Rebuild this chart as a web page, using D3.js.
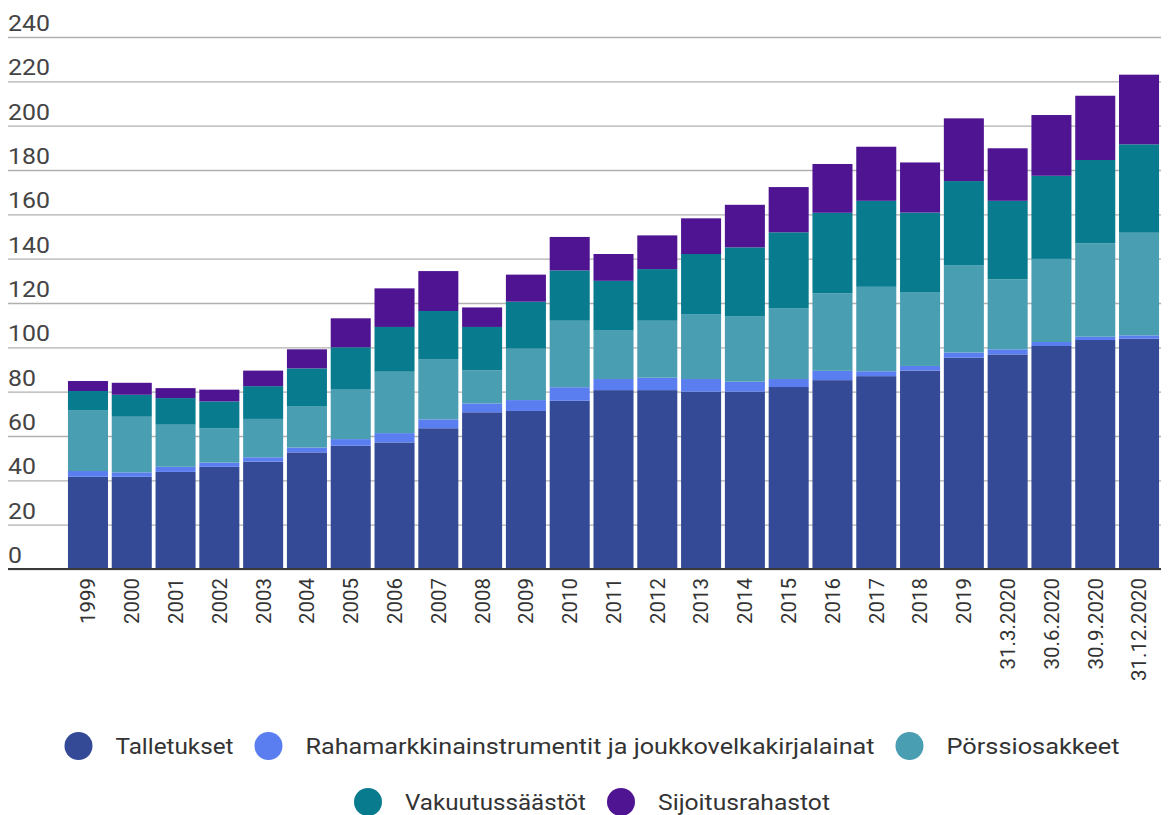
<!DOCTYPE html>
<html>
<head>
<meta charset="utf-8">
<script src="https://cdn.jsdelivr.net/npm/d3@7"></script>
<style>
  body { margin: 0; background: #fff; }
  text { font-family: Roboto, "Noto Sans", sans-serif; }
</style>
</head>
<body>
<div id="chart"></div>
<script>
//Data (billion euros)
var categories = ["1999","2000","2001","2002","2003","2004","2005","2006","2007","2008","2009","2010",
  "2011","2012","2013","2014","2015","2016","2017","2018","2019","31.3.2020","30.6.2020","30.9.2020","31.12.2020"]

var seriesNames = ["Talletukset", "Rahamarkkinainstrumentit ja joukkovelkakirjalainat", "Pörssiosakkeet",
  "Vakuutussäästöt", "Sijoitusrahastot"]

var talletukset = [41.6,41.6,43.8,46.1,48.4,52.6,55.6,57.1,63.5,70.7,71.3,75.9,80.7,80.7,80.0,80.0,82.1,85.2,87.0,89.5,95.3,96.8,100.6,103.3,103.9]
var rahamarkkina = [2.6,2.0,2.3,1.9,2.0,2.2,3.0,4.2,4.0,4.0,4.9,6.1,5.0,5.6,5.7,4.5,3.6,4.2,2.2,2.1,2.4,2.3,1.8,1.5,1.5]
var porssiosakkeet = [27.5,25.1,19.0,15.4,17.3,18.7,22.6,27.7,27.2,14.9,23.2,30.0,22.1,25.7,29.3,29.6,32.0,35.0,38.1,33.1,39.4,31.6,37.5,42.1,46.3]
var vakuutus = [8.6,9.9,12.0,12.2,14.8,17.0,18.8,20.2,21.7,19.6,21.2,22.7,22.2,23.3,27.1,31.0,34.2,36.3,38.8,36.1,37.9,35.4,37.5,37.6,39.9]
var sijoitus = [4.5,5.4,4.5,5.3,7.0,8.6,13.1,17.4,18.0,8.8,12.2,15.1,12.1,15.2,16.1,19.2,20.4,22.0,24.4,22.6,28.3,23.7,27.4,29.0,31.4]

var yTicks = [0,20,40,60,80,100,120,140,160,180,200,220,240]

var colors = ["#344a97", "#5a7df0", "#4a9eb1", "#087b8e", "#4f1491"]

//Build rows for the stack
var seriesValues = [talletukset, rahamarkkina, porssiosakkeet, vakuutus, sijoitus]
var rows = []
for (i = 0; i < categories.length; i++) {
  var row = { cat: categories[i] }
  for (j = 0; j < seriesNames.length; j++) {
    row[seriesNames[j]] = seriesValues[j][i]
  }
  rows.push(row)
}

var width = 1169
var height = 815

var svg = d3.select("#chart")
  .append("svg")
  .attr("width", width)
  .attr("height", height)

//Scales
var y = d3.scaleLinear()
  .domain([0, 240])
  .range([569, 37])

var x = d3.scaleBand()
  .domain(categories)
  .range([66.2, 1160.8])
  .paddingInner(0.086)
  .paddingOuter(0.04)

//Grid lines and y labels
var grid = svg.append("g")
  .attr("transform", "translate(8,0)")
  .call(d3.axisRight(y)
    .tickValues(yTicks)
    .tickSize(1153)
    .tickFormat(""))
grid.select(".domain").remove()
grid.selectAll(".tick line")
  .attr("stroke", "#b0b0b0")
  .attr("stroke-width", 1.3)

//The picture is a bit stretched sideways, so the labels are widened a little
svg.selectAll(".ylabel")
  .data(yTicks)
  .enter()
  .append("text")
  .attr("class", "ylabel")
  .attr("transform", function(d){ return "translate(8," + (y(d) - 6) + ") scale(1.13,1)" })
  .attr("fill", "#444")
  .style("font-size", "22px")
  .text(function(d){ return d })

//Stacked bars
var stack = d3.stack().keys(seriesNames)
var stacked = stack(rows)

svg.append("g")
  .selectAll("g")
  .data(stacked)
  .enter()
  .append("g")
  .attr("fill", function(d, i){ return colors[i] })
  .selectAll("rect")
  .data(function(d){ return d })
  .enter()
  .append("rect")
  .attr("x", function(d){ return x(d.data.cat) })
  .attr("width", x.bandwidth())
  .attr("y", function(d){ return y(d[1]) })
  .attr("height", function(d){ return y(d[0]) - y(d[1]) })

//Baseline and category labels
var xAxis = svg.append("g")
  .attr("transform", "translate(0," + y(0) + ")")
  .call(d3.axisBottom(x).tickSize(0).tickPadding(0))
xAxis.select(".domain").remove()
xAxis.append("line")
  .attr("x1", 8)
  .attr("x2", 1161)
  .attr("stroke", "#3a3a3a")
  .attr("stroke-width", 2)

xAxis.selectAll(".tick text")
  .attr("transform", "translate(0,9) rotate(-90)")
  .attr("text-anchor", "end")
  .attr("x", 0)
  .attr("y", 0)
  .attr("dy", "0.36em")
  .attr("fill", "#333")
  .style("font-size", "20.5px")
  .style("font-family", "Roboto, sans-serif")

//Legend, two centered rows; text widths
var legendRows = [[0, 1, 2], [3, 4]]
var legendY = [746, 802]
var legendTextWidth = [118, 569, 173, 181, 172]
var legendCenter = 592

legendRows.forEach(function(items, r) {
  var g = svg.append("g")
  var pos = 0
  items.forEach(function(k) {
    var item = g.append("g").attr("transform", "translate(" + pos + ",0)")
    item.append("circle")
      .attr("cx", 14)
      .attr("cy", 0)
      .attr("r", 14)
      .attr("fill", colors[k])
    item.append("text")
      .attr("x", 51)
      .attr("y", 0)
      .attr("dy", "0.35em")
      .attr("fill", "#333")
      .attr("textLength", legendTextWidth[k])
      .attr("lengthAdjust", "spacingAndGlyphs")
      .style("font-size", "22px")
      .text(seriesNames[k])
    pos += 51 + legendTextWidth[k] + 21
  })
  var total = pos - 21
  g.attr("transform", "translate(" + (legendCenter - total / 2) + "," + legendY[r] + ")")
})
</script>
</body>
</html>
